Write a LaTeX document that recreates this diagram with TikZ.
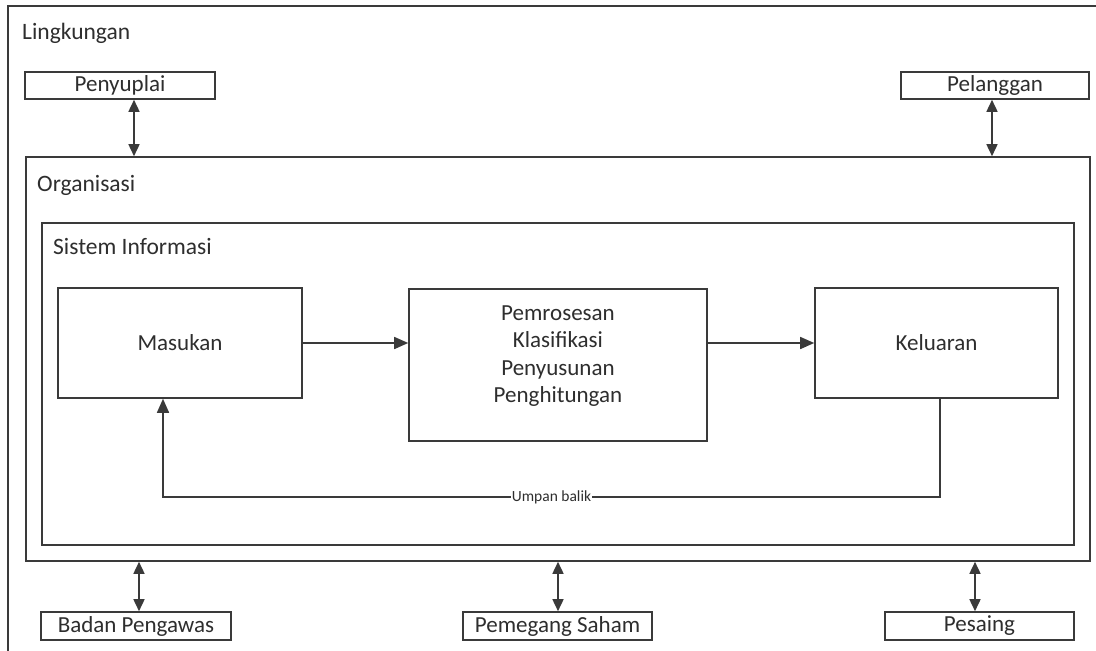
\documentclass[tikz,border=0pt]{standalone}
\usepackage{fontspec}
\setmainfont{Carlito}
\usetikzlibrary{arrows.meta}
\definecolor{ln}{HTML}{3A3A3A}
\definecolor{tx}{HTML}{2E2E2E}
\tikzset{
  x=1pt,y=-1pt,
  box/.style={draw=ln,line width=1.6pt,fill=white,inner sep=0pt,text=tx,font=\fontsize{23}{27}\selectfont},
  lbl/.style={inner sep=0pt,text=tx,font=\fontsize{23.5}{27}\selectfont,anchor=base west},
  conn/.style={draw=ln,line width=1.6pt},
  tip/.style={-{Triangle[length=14pt,width=12pt]}},
  dtip/.style={{Triangle[length=12pt,width=11pt]}-{Triangle[length=12pt,width=11pt]}}
}
\begin{document}
\begin{tikzpicture}
\useasboundingbox (0,0) rectangle (1096,651);
\fill[white] (0,0) rectangle (1096,651);
% environment frame
\draw[conn] (8,660) -- (8,6) -- (1100,6);
\node[lbl] (ling) at (22,39) {Lingkungan};
% organisation and information system
\node[box,minimum width=1064pt,minimum height=404pt] (org) at (558,359) {};
\node[lbl] (orgl) at (37,191) {Organisasi};
\node[box,minimum width=1032pt,minimum height=322pt] (si) at (558,384) {};
\node[lbl] (sil) at (53,254) {Sistem Informasi};
% environment boxes
\node[box,minimum width=190pt,minimum height=27pt] (peny) at (120,85.5) {Penyuplai};
\node[box,minimum width=188pt,minimum height=27pt] (pel) at (995,85.5) {Pelanggan};
\node[box,minimum width=190pt,minimum height=28pt] (badan) at (136,626) {Badan Pengawas};
\node[box,minimum width=189pt,minimum height=28pt] (pem) at (557.5,626) {Pemegang Saham};
\node[box,minimum width=189pt,minimum height=28pt] (pes) at (979.5,626) {Pesaing};
% process boxes
\node[box,minimum width=244pt,minimum height=110pt] (mas) at (180,343) {Masukan};
\node[box,minimum width=298pt,minimum height=152pt] (proc) at (558,365) {};
\node[inner sep=0pt,text=tx,font=\fontsize{23}{27.3}\selectfont,align=center] (proct) at (558,356) {Pemrosesan\\Klasifikasi\\Penyusunan\\Penghitungan};
\node[box,minimum width=243pt,minimum height=110pt] (kel) at (936.5,343) {Keluaran};
% x positions of connectors
\coordinate (xa) at (134,0);
\coordinate (xb) at (992,0);
\coordinate (xc) at (139,0);
\coordinate (xd) at (558,0);
\coordinate (xe) at (975,0);
\coordinate (xf) at (940,0);
\coordinate (xg) at (163,0);
\coordinate (yfb) at (0,497);
% environment connectors
\draw[conn,dtip] (peny.south -| xa) -- (org.north -| xa);
\draw[conn,dtip] (pel.south -| xb) -- (org.north -| xb);
\draw[conn,dtip] (org.south -| xc) -- (badan.north -| xc);
\draw[conn,dtip] (org.south -| xd) -- (pem.north -| xd);
\draw[conn,dtip] (org.south -| xe) -- (pes.north -| xe);
% flow
\draw[conn,tip] (mas.east) -- (mas.east -| proc.west);
\draw[conn,tip] (proc.east |- kel.west) -- (kel.west);
\draw[conn,tip] (kel.south -| xf) -- (xf |- yfb) -- (xg |- yfb)
  node[pos=0.5,fill=white,inner sep=1pt,text=tx,font=\fontsize{15.5}{18}\selectfont] (fb) {Umpan balik}
  -- (mas.south -| xg);
\end{tikzpicture}
\end{document}
